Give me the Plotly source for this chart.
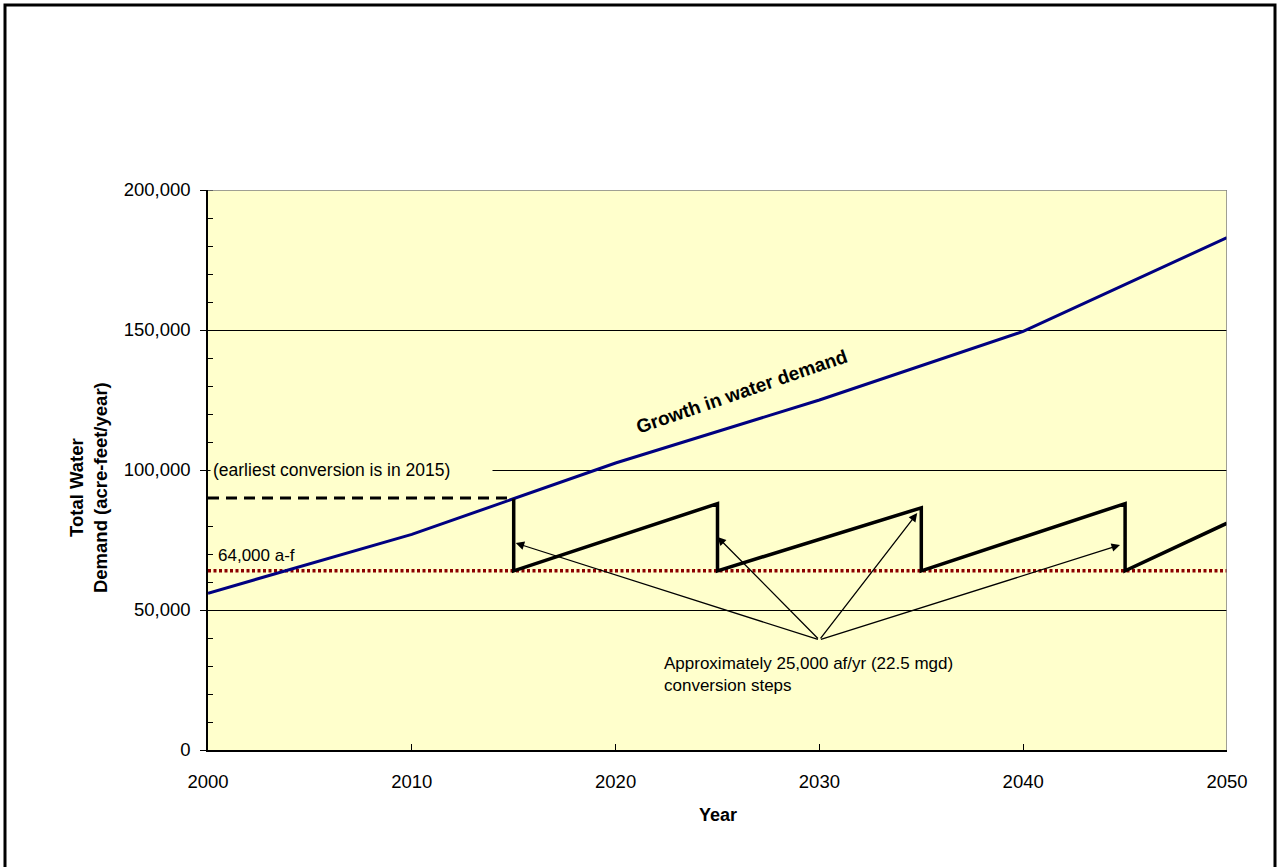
import plotly.graph_objects as go

# Projected total water demand (acre-feet/year)
demand_years = [2000, 2010, 2020, 2030, 2040, 2050]
demand_values = [56000, 77000, 102500, 125000, 149500, 183000]

# Demand remaining after each conversion step (sawtooth)
step_years = [2015, 2015, 2025, 2025, 2035, 2035, 2045, 2045, 2050]
step_values = [89750, 64000, 88000, 64000, 86500, 64000, 88000, 64000, 81000]

# Level before the earliest conversion
early_years = [2000, 2015]
early_values = [90000, 90000]

# Supply threshold
threshold_years = [2000, 2050]
threshold_values = [64000, 64000]
threshold_label = "64,000 a-f"

# Conversion-step arrows: common origin and the four targets
arrow_origin = (2030, 39300)
arrow_targets_x = [2015.1, 2025.0, 2034.8, 2044.75]
arrow_targets_y = [73900, 76100, 84600, 73200]

x_ticks = [2000, 2010, 2020, 2030, 2040, 2050]
y_ticks = [0, 50000, 100000, 150000, 200000]
y_tick_text = ["0", "50,000", "100,000", "150,000", "200,000"]

FONT = "Liberation Sans, Arial, sans-serif"
BG = "#FFFFCC"
TXT = 17

fig = go.Figure()

fig.add_trace(go.Scatter(
    x=threshold_years, y=threshold_values, mode="lines",
    line=dict(color="#8B0000", width=3.5, dash="3px,2.5px"),
    hoverinfo="skip", showlegend=False))

fig.add_trace(go.Scatter(
    x=early_years, y=early_values, mode="lines",
    line=dict(color="black", width=3, dash="11px,7px"),
    hoverinfo="skip", showlegend=False))

fig.add_trace(go.Scatter(
    x=demand_years, y=demand_values, mode="lines",
    line=dict(color="#000080", width=3),
    hoverinfo="skip", showlegend=False))

fig.add_trace(go.Scatter(
    x=step_years, y=step_values, mode="lines",
    line=dict(color="black", width=3.5),
    hoverinfo="skip", showlegend=False))

annotations = []
for tx, ty in zip(arrow_targets_x, arrow_targets_y):
    annotations.append(dict(
        x=tx, y=ty, xref="x", yref="y",
        ax=arrow_origin[0], ay=arrow_origin[1], axref="x", ayref="y",
        showarrow=True, arrowhead=2, arrowsize=1.3, arrowwidth=1.3,
        arrowcolor="black", text=""))

annotations += [
    dict(x=2026.2, y=127900, xref="x", yref="y", showarrow=False,
         xanchor="center", yanchor="middle",
         text="<b>Growth in water demand</b>", textangle=-19,
         font=dict(family=FONT, size=19, color="black")),
    dict(x=2000.08, y=100000, xref="x", yref="y", showarrow=False,
         xanchor="left", yanchor="middle", align="left", width=277,
         text="(earliest conversion is in 2015)", bgcolor=BG, borderpad=2,
         font=dict(family=FONT, size=17.5, color="black")),
    dict(x=2000.4, y=69600, xref="x", yref="y", showarrow=False,
         xanchor="left", yanchor="middle", text=threshold_label,
         font=dict(family=FONT, size=TXT, color="black")),
    dict(x=2022.28, y=27100, xref="x", yref="y", showarrow=False,
         xanchor="left", yanchor="middle", align="left",
         text="Approximately 25,000 af/yr (22.5 mgd)<br>conversion steps",
         font=dict(family=FONT, size=TXT, color="black")),
    dict(x=-0.1178, y=93900, xref="paper", yref="y", showarrow=False,
         xanchor="center", yanchor="middle",
         text="<b>Total Water<br>Demand (acre-feet/year)</b>", textangle=-90,
         font=dict(family=FONT, size=18.5, color="black")),
    dict(x=0.5, y=-0.116, xref="paper", yref="paper", showarrow=False,
         xanchor="center", yanchor="middle",
         text="<b>Year</b>", font=dict(family=FONT, size=18, color="black")),
]

shapes = [
    # plot-area border on top and right
    dict(type="line", xref="x", yref="y", x0=2000, x1=2050, y0=200000, y1=200000,
         line=dict(color="#808080", width=1.5), layer="above"),
    dict(type="line", xref="x", yref="y", x0=2050, x1=2050, y0=0, y1=200000,
         line=dict(color="#808080", width=1.5), layer="above"),
    # outer chart frame
    dict(type="rect", xref="paper", yref="paper",
         x0=(5 - 208) / 1019, x1=(1275 - 208) / 1019,
         y0=(750 - 900) / 560, y1=(750 - 5) / 560,
         line=dict(color="black", width=3), fillcolor="rgba(0,0,0,0)", layer="above"),
]

fig.update_layout(
    width=1280, height=867,
    margin=dict(l=208, r=53, t=190, b=117, autoexpand=False),
    paper_bgcolor="white", plot_bgcolor=BG,
    font=dict(family=FONT, size=18, color="black"),
    showlegend=False,
    annotations=annotations, shapes=shapes,
    xaxis=dict(range=[2000, 2050], tickvals=x_ticks, showgrid=False,
               zeroline=False, showline=True, linecolor="black", linewidth=1.5,
               ticks="inside", ticklen=6, tickcolor="black", tickwidth=1,
               ticklabelstandoff=14, tickfont=dict(size=18.5)),
    yaxis=dict(range=[0, 200000], tickvals=y_ticks, ticktext=y_tick_text,
               showgrid=True, gridcolor="black", gridwidth=1,
               zeroline=False, showline=True, linecolor="black", linewidth=1.5,
               ticks="outside", ticklen=6, tickcolor="black", tickwidth=1,
               minor=dict(ticks="inside", dtick=10000, ticklen=5,
                          tickcolor="black", showgrid=False),
               ticklabelstandoff=6, tickfont=dict(size=18.5)),
)

fig.write_html("out.html")
